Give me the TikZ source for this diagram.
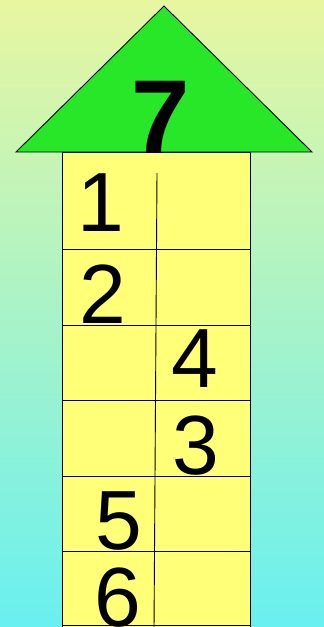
\documentclass[tikz,border=0pt]{standalone}
\usepackage{fontspec}
\setmainfont{Liberation Sans}
\definecolor{bgtop}{RGB}{232,246,160}
\definecolor{bgbot}{RGB}{105,240,240}
\definecolor{roof}{RGB}{40,230,40}
\definecolor{wall}{RGB}{255,255,120}
\tikzset{
  digit/.style={inner sep=0pt, font=\fontsize{84}{84}\selectfont},
  grid/.style={draw=black, line width=0.9pt}
}
\begin{document}
\begin{tikzpicture}[x=1pt,y=-1pt]
\useasboundingbox (0,0) rectangle (324,627);
\shade[top color=bgtop, bottom color=bgbot] (0,0) rectangle (324,627);
% body
\fill[wall] (62,152) rectangle (250,630);
\draw[grid] (62,630) -- (62,152) -- (250,152) -- (250,630);
\foreach \yy in {249,325,400,476,551,625} {\draw[grid] (62,\yy) -- (250,\yy);}
\draw[grid] (157,173) -- (154,630);
% roof
\draw[grid, fill=roof] (16,152) -- (164,6) -- (312,152) -- cycle;
% numbers
\node[inner sep=0pt, font=\fontsize{105}{105}\selectfont\bfseries] (n7) at (161,117) {7};
\node[digit] (n1) at (101,203) {1};
\node[digit] (n2) at (103,294) {2};
\node[digit] (n4) at (195,359) {4};
\node[digit] (n3) at (196,446) {3};
\node[digit] (n5) at (119,521) {5};
\node[digit] (n6) at (118,598) {6};
\end{tikzpicture}
\end{document}
